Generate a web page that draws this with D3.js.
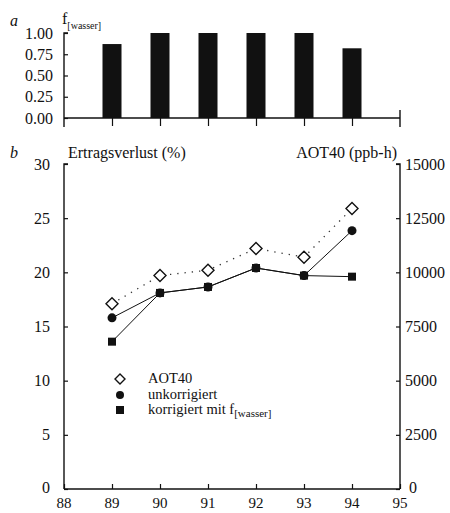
<!DOCTYPE html>
<html><head><meta charset="utf-8">
<script src="https://cdn.jsdelivr.net/npm/d3@7/dist/d3.min.js"></script>
<style>
body{margin:0;background:#fff;}
text{font-family:"Liberation Serif","Times New Roman",serif;fill:#111;}
</style></head>
<body>
<svg id="c" width="450" height="513"></svg>
<script>
// ---- data ----
const years = [89, 90, 91, 92, 93, 94];
const fWasser = [0.87, 1.00, 1.00, 1.00, 1.00, 0.82];
const aot40 = [8550, 9850, 10100, 11100, 10700, 12950];          // ppb-h (right axis)
const unkorrigiert = [15.8, 18.1, 18.65, 20.4, 19.7, 23.85];      // % (left axis)
const korrigiert = [13.6, 18.1, 18.65, 20.4, 19.7, 19.6];         // % (left axis)
const xTicks = [88, 89, 90, 91, 92, 93, 94, 95];
const fTicks = [0, 0.25, 0.5, 0.75, 1.0];
const leftTicks = [0, 5, 10, 15, 20, 25, 30];
const rightTicks = [0, 2500, 5000, 7500, 10000, 12500, 15000];
const legendLabels = ["AOT40", "unkorrigiert", "korrigiert mit f"];

const svg = d3.select("#c");
const x = d3.scaleLinear().domain([88, 95]).range([64, 400]);

// ---- panel a ----
const ya = d3.scaleLinear().domain([0, 1]).range([118, 33]);
const ga = svg.append("g");
ga.selectAll("rect.bar").data(years).join("rect")
  .attr("x", d => x(d) - 9.5).attr("width", 19)
  .attr("y", (d, i) => ya(fWasser[i])).attr("height", (d, i) => ya(0) - ya(fWasser[i]))
  .attr("fill", "#111");
ga.append("g").attr("transform", "translate(64,0)")
  .call(d3.axisRight(ya).tickValues(fTicks).tickSize(4).tickFormat(""))
  .call(g => g.select(".domain").attr("stroke", "#111").attr("stroke-width", 1.4).attr("d", `M4,${ya(1)}H0V${ya(0)}`));
ga.selectAll("text.ylab").data(fTicks).join("text")
  .attr("x", 53).attr("y", d => ya(d)).attr("dy", "0.35em").attr("text-anchor", "end")
  .attr("font-size", 16).text(d3.format(".2f"));
ga.append("g").attr("transform", `translate(0,${ya(0)})`)
  .call(d3.axisBottom(x).tickValues(xTicks.slice(1, 7)).tickSize(8).tickFormat(""))
  .call(g => g.select(".domain").attr("stroke", "#111").attr("stroke-width", 1.4).attr("d", `M${x(88)},0H${x(95)}`));
ga.append("line").attr("x1", x(95)).attr("x2", x(95)).attr("y1", ya(0) - 8).attr("y2", ya(0) + 9)
  .attr("stroke", "#111").attr("stroke-width", 1.4);
ga.append("line").attr("x1", x(88)).attr("x2", x(88)).attr("y1", ya(0)).attr("y2", ya(0) + 9)
  .attr("stroke", "#111").attr("stroke-width", 1.4);
ga.append("text").attr("x", 10).attr("y", 26).attr("font-size", 16).attr("font-style", "italic").text("a");
const fl = ga.append("text").attr("x", 62).attr("y", 24).attr("font-size", 16);
fl.append("tspan").text("f");
fl.append("tspan").attr("font-size", 10).attr("dy", 5).text("[wasser]");

// ---- panel b ----
const yl = d3.scaleLinear().domain([0, 30]).range([489, 164]);
const yr = d3.scaleLinear().domain([0, 15000]).range([489, 164]);
const gb = svg.append("g");
gb.append("g").attr("transform", "translate(64,0)")
  .call(d3.axisRight(yl).tickValues(leftTicks).tickSize(4).tickFormat(""))
  .call(g => g.select(".domain").attr("stroke", "#111").attr("stroke-width", 1.4).attr("d", `M4,${yl(30)}H0V${yl(0)}`));
gb.selectAll("text.ll").data(leftTicks).join("text")
  .attr("x", 50).attr("y", d => yl(d) - (d === 0 ? 2 : 0)).attr("dy", "0.35em").attr("text-anchor", "end")
  .attr("font-size", 16).text(d => d);
gb.append("g").attr("transform", "translate(400,0)")
  .call(d3.axisLeft(yr).tickValues(rightTicks).tickSize(4).tickFormat(""))
  .call(g => g.select(".domain").attr("stroke", "#111").attr("stroke-width", 1.4).attr("d", `M-4,${yr(15000)}H0V${yr(0)}`));
gb.selectAll("text.rl").data(rightTicks).join("text")
  .attr("x", d => d === 0 ? 409 : 405).attr("y", d => yr(d) - (d === 0 ? 2 : 0)).attr("dy", "0.35em").attr("text-anchor", "start")
  .attr("font-size", 16).text(d => d);
gb.append("g").attr("transform", `translate(0,${yl(0)})`)
  .call(d3.axisTop(x).tickValues(xTicks).tickSize(5).tickFormat(""))
  .call(g => g.select(".domain").attr("stroke", "#111").attr("stroke-width", 1.4).attr("d", `M${x(88)},0H${x(95)}`));
gb.selectAll("text.xl").data(xTicks).join("text")
  .attr("x", d => x(d)).attr("y", 508).attr("text-anchor", "middle")
  .attr("font-size", 15).text(d => d);
gb.selectAll(".tick line").attr("stroke", "#111").attr("stroke-width", 1.2);
ga.selectAll(".tick line").attr("stroke", "#111").attr("stroke-width", 1.2);

gb.append("text").attr("x", 10).attr("y", 158).attr("font-size", 16).attr("font-style", "italic").text("b");
gb.append("text").attr("x", 68).attr("y", 158).attr("font-size", 16).text("Ertragsverlust (%)");
gb.append("text").attr("x", 397).attr("y", 158).attr("font-size", 16).attr("text-anchor", "end").text("AOT40 (ppb-h)");

// lines
const lineA = d3.line().x((d, i) => x(years[i])).y(d => yr(d));
const lineL = d3.line().x((d, i) => x(years[i])).y(d => yl(d));
gb.append("path").attr("d", lineA(aot40)).attr("fill", "none").attr("stroke", "#333")
  .attr("stroke-width", 1.3).attr("stroke-dasharray", "1.3,6");
gb.append("path").attr("d", lineL(unkorrigiert)).attr("fill", "none").attr("stroke", "#111").attr("stroke-width", 1);
gb.append("path").attr("d", lineL(korrigiert)).attr("fill", "none").attr("stroke", "#111").attr("stroke-width", 1);

gb.selectAll("path.dia").data(aot40).join("path")
  .attr("transform", (d, i) => `translate(${x(years[i])},${yr(d)})`)
  .attr("d", "M0,-6L6,0L0,6L-6,0Z").attr("fill", "#fff").attr("stroke", "#111").attr("stroke-width", 1.4);
gb.selectAll("circle.unk").data(unkorrigiert).join("circle")
  .attr("cx", (d, i) => x(years[i])).attr("cy", d => yl(d)).attr("r", 4.5).attr("fill", "#111");
gb.selectAll("rect.kor").data(korrigiert).join("rect")
  .attr("x", (d, i) => x(years[i]) - 4).attr("y", d => yl(d) - 4).attr("width", 8).attr("height", 8).attr("fill", "#111");

// legend
const lg = gb.append("g");
const ly = [379, 395, 410];
lg.append("path").attr("transform", `translate(120,${ly[0]})`).attr("d", "M0,-5L5,0L0,5L-5,0Z")
  .attr("fill", "#fff").attr("stroke", "#111").attr("stroke-width", 1.4);
lg.append("circle").attr("cx", 120).attr("cy", ly[1]).attr("r", 4).attr("fill", "#111");
lg.append("rect").attr("x", 116).attr("y", ly[2] - 4).attr("width", 8).attr("height", 8).attr("fill", "#111");
legendLabels.forEach((t, i) => {
  const tx = lg.append("text").attr("x", 148).attr("y", ly[i]).attr("dy", "0.3em").attr("font-size", 14.5);
  tx.append("tspan").text(t);
  if (i === 2) tx.append("tspan").attr("font-size", 11).attr("dy", 3).text("[wasser]");
});
</script>
</body></html>
